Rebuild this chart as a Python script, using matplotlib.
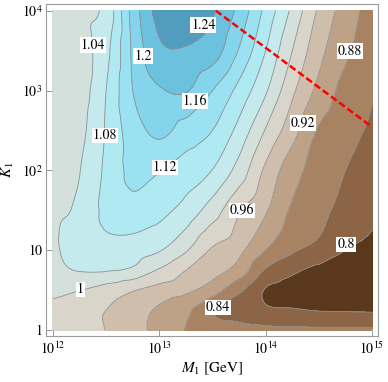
import numpy as np
import matplotlib.pyplot as plt
import matplotlib.tri as mtri

plt.rcParams['font.family'] = 'STIXGeneral'
plt.rcParams['mathtext.fontset'] = 'stix'

# grid of the plotted ratio (log10 of the axes)
log_M1 = [12.0, 12.25, 12.5, 12.75, 13.0, 13.25, 13.5, 13.75, 14.0, 14.25, 14.5, 14.75, 15.0]
log_K1 = [0.0, 0.25, 0.5, 0.75, 1.0, 1.5, 2.0, 2.5, 3.0, 3.5, 4.0]

# rows go from K1 = 1 (bottom) to K1 = 1e4 (top)
ratio = np.array([
    [0.975, 0.968, 0.959, 0.935, 0.907, 0.878, 0.862, 0.855, 0.850, 0.848, 0.847, 0.846, 0.846],
    [0.993, 0.980, 0.960, 0.937, 0.914, 0.888, 0.841, 0.822, 0.806, 0.803, 0.798, 0.797, 0.796],
    [1.007, 1.001, 0.983, 0.963, 0.945, 0.929, 0.900, 0.847, 0.797, 0.785, 0.778, 0.775, 0.776],
    [1.030, 1.042, 1.043, 1.033, 0.996, 0.960, 0.935, 0.904, 0.836, 0.808, 0.790, 0.780, 0.780],
    [1.035, 1.055, 1.066, 1.060, 1.043, 1.004, 0.955, 0.930, 0.880, 0.845, 0.828, 0.800, 0.790],
    [1.032, 1.047, 1.090, 1.105, 1.092, 1.065, 1.020, 0.965, 0.924, 0.874, 0.852, 0.826, 0.808],
    [1.030, 1.039, 1.088, 1.130, 1.122, 1.101, 1.079, 1.024, 0.952, 0.896, 0.863, 0.840, 0.822],
    [1.025, 1.030, 1.084, 1.140, 1.170, 1.143, 1.120, 1.067, 0.997, 0.936, 0.876, 0.852, 0.835],
    [1.020, 1.022, 1.080, 1.160, 1.196, 1.203, 1.160, 1.107, 1.045, 0.968, 0.909, 0.866, 0.843],
    [1.015, 1.022, 1.069, 1.167, 1.232, 1.236, 1.220, 1.157, 1.080, 1.000, 0.933, 0.888, 0.853],
    [1.020, 1.030, 1.052, 1.175, 1.255, 1.270, 1.245, 1.188, 1.109, 1.031, 0.954, 0.902, 0.862],
])

levels = [0.8, 0.84, 0.88, 0.92, 0.96, 1.0, 1.04, 1.08, 1.12, 1.16, 1.2, 1.24]
band_colors = ['#5a381b', '#8b6545', '#a78363', '#bea287', '#cfbeac', '#dad5cb',
               '#d4e0db', '#c4eaee', '#afeaf3', '#9ae2f2', '#84d5ec', '#6cc1de', '#519dc0']

# red dashed cut
cut_M1 = [3.4e13, 1e15]
cut_K1 = [1e4, 350]

# contour labels: text, M1, K1
label_spots = [
    ('1.24', 2.58e13, 6.6e3), ('1.2', 7.0e12, 2.72e3), ('1.04', 2.38e12, 3.7e3),
    ('1.16', 2.17e13, 743), ('1.08', 3.08e12, 272), ('1.12', 1.13e13, 108),
    ('0.88', 6.2e14, 3.13e3), ('0.92', 2.25e14, 394), ('0.96', 6.0e13, 31.3),
    ('0.8', 5.7e14, 11.8), ('0.84', 3.57e13, 1.92), ('1', 1.8e12, 3.23),
]

fig = plt.figure(figsize=(3.88, 3.82), dpi=100)
ax = fig.add_axes([0.1198, 0.1204, 0.8544, 0.8691])

# smooth the contours with matplotlib's own triangle refiner (in log space)
U, V = np.meshgrid(log_M1, log_K1)
tri = mtri.Triangulation(U.ravel(), V.ravel())
interp = mtri.CubicTriInterpolator(tri, ratio.ravel(), kind='geom')
tri_f, z_f = mtri.UniformTriRefiner(tri).refine_field(ratio.ravel(), triinterpolator=interp, subdiv=3)
tri_plot = mtri.Triangulation(10 ** tri_f.x, 10 ** tri_f.y, tri_f.triangles)

bounds = [0.5] + levels + [1.5]
ax.tricontourf(tri_plot, z_f, levels=bounds, colors=band_colors)
ax.tricontour(tri_plot, z_f, levels=levels, colors='#8e8e8e', linewidths=0.6)

ax.plot(cut_M1, cut_K1, color='red', lw=1.8, ls=(0, (2.8, 1.3)))

for txt, mx, ky in label_spots:
    ax.text(mx, ky, txt, ha='center', va='center', fontsize=10,
            bbox=dict(boxstyle='square,pad=0.08', fc='white', ec='none'))

ax.set_xscale('log')
ax.set_yscale('log')
ax.set_xlim(10 ** 11.939, 10 ** 15.056)
ax.set_ylim(10 ** -0.075, 10 ** 4.084)
ax.set_xticks([1e12, 1e13, 1e14, 1e15])
ax.set_xticklabels(['$10^{12}$', '$10^{13}$', '$10^{14}$', '$10^{15}$'])
ax.set_yticks([1, 10, 1e2, 1e3, 1e4])
ax.set_yticklabels(['1', '10', '$10^{2}$', '$10^{3}$', '$10^{4}$'])
ax.minorticks_off()
ax.tick_params(direction='in', length=4, width=0.6, color='#888888',
               labelsize=10, top=False, right=False, pad=3)
for s in ax.spines.values():
    s.set_color('#9a9a9a')
    s.set_linewidth(0.8)

ax.set_xlabel('$M_1$ [GeV]', fontsize=11, labelpad=3)
ax.set_ylabel('$K_1$', fontsize=11, labelpad=4)

fig.savefig('out.png', dpi=100)
